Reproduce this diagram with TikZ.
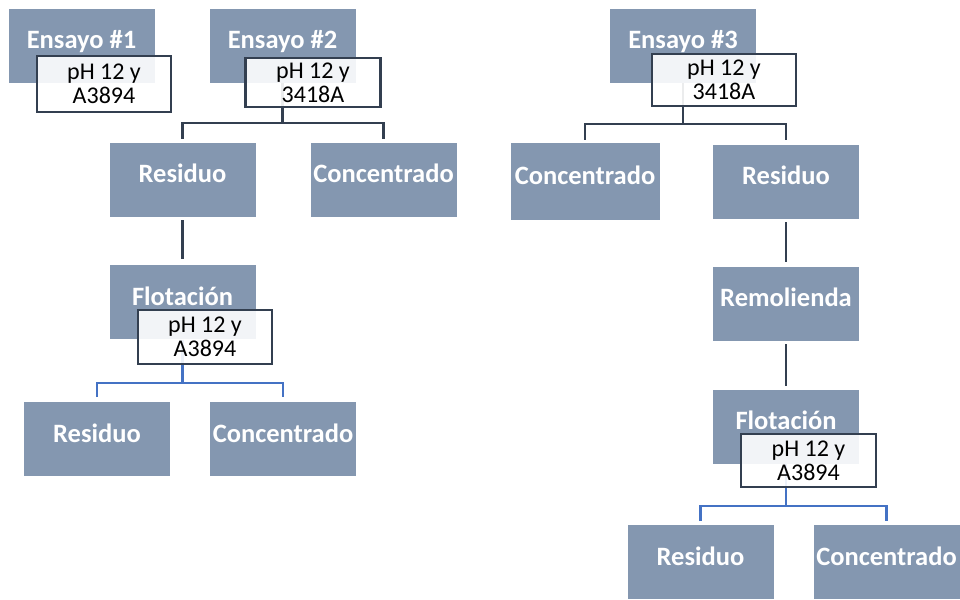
\documentclass[tikz,border=0pt]{standalone}
\usepackage{fontspec}
\setmainfont{Carlito}
\usepackage{tikz}
\definecolor{slate}{HTML}{8497B0}
\definecolor{darkslate}{HTML}{333F50}
\definecolor{flowblue}{HTML}{4472C4}
\tikzset{
%%%%%%%%%%  Node styles
stage/.style={fill=slate, draw=white, line width=0.6pt, inner sep=0pt,
              minimum width=147pt, minimum height=75pt, text=white,
              font=\fontsize{26.5}{30}\selectfont\bfseries,
              text height=0.7em, text depth=0.1em},
condition/.style={fill=white, fill opacity=0.9, text opacity=1,
                  draw=darkslate, line width=2.5pt, inner sep=0pt,
                  align=center, font=\fontsize{24}{24}\selectfont},
%%%% different line styles:
link/.style={darkslate, line width=2.7pt},
flotlink/.style={flowblue, line width=2.3pt}
}
\begin{document}
\begin{tikzpicture}[x=1pt,y=-1pt]
\useasboundingbox (0,0) rectangle (960,599);
\node[stage] (e1) at (81.5,45.5) {Ensayo \#1};
\node[stage] (e2) at (282.5,45.5) {Ensayo \#2};
\node[stage] (e3) at (683,45.5) {Ensayo \#3};
%%%% trial 2
\node[stage] (r2) at (182.5,179.5) {Residuo};
\node[stage] (k2) at (383.5,179.5) {Concentrado};
\node[stage] (f2) at (182.5,302) {Flotación};
\node[stage] (r2f) at (97,439) {Residuo};
\node[stage] (k2f) at (283,439) {Concentrado};
%%%% trial 3
\node[stage, minimum width=150pt, minimum height=78pt] (k3) at (585,181) {Concentrado};
\node[stage] (r3) at (786,181.5) {Residuo};
\node[stage] (m3) at (786,303.5) {Remolienda};
\node[stage] (f3) at (786,426.5) {Flotación};
\node[stage] (r3f) at (700.5,562) {Residuo};
\node[stage] (k3f) at (886.5,562) {Concentrado};
%%%% connectors
\coordinate (t2) at (282.5,123);
\coordinate (t2f) at (182.5,383);
\coordinate (t3) at (683,124);
\coordinate (t3f) at (786,506);
\draw[link] (e2.south) -- (t2);
\draw[link, shorten <=3pt, shorten >=3pt] (r2.north) |- (t2) -| (k2.north);
\draw[link, shorten <=3pt, shorten >=5pt] (r2) -- (f2);
\draw[flotlink] (f2.south) -- (t2f);
\draw[flotlink, shorten <=4pt, shorten >=4pt] (r2f.north) |- (t2f) -| (k2f.north);
\draw[link] (e3.south) -- (t3);
\draw[link, shorten <=2pt, shorten >=4pt] (k3.north) |- (t3) -| (r3.north);
\draw[link, shorten <=3pt, shorten >=4pt] (r3) -- (m3);
\draw[link, shorten <=3pt, shorten >=3pt] (m3) -- (f3);
\draw[flotlink] (f3.south) -- (t3f);
\draw[flotlink, shorten <=3pt, shorten >=3pt] (r3f.north) |- (t3f) -| (k3f.north);
%%%% reagent boxes
\node[condition, minimum width=134pt, minimum height=56pt] (c1) at (104,84) {pH 12 y\\A3894};
\node[condition, minimum width=135pt, minimum height=49pt] (c2) at (313,82.5) {pH 12 y\\3418A};
\node[condition, minimum width=144pt, minimum height=52pt] (c3) at (724,80) {pH 12 y\\3418A};
\node[condition, minimum width=134pt, minimum height=54pt] (c2f) at (205,337) {pH 12 y\\A3894};
\node[condition, minimum width=135pt, minimum height=53pt] (c3f) at (808.5,460.5) {pH 12 y\\A3894};
\end{tikzpicture}
\end{document}
